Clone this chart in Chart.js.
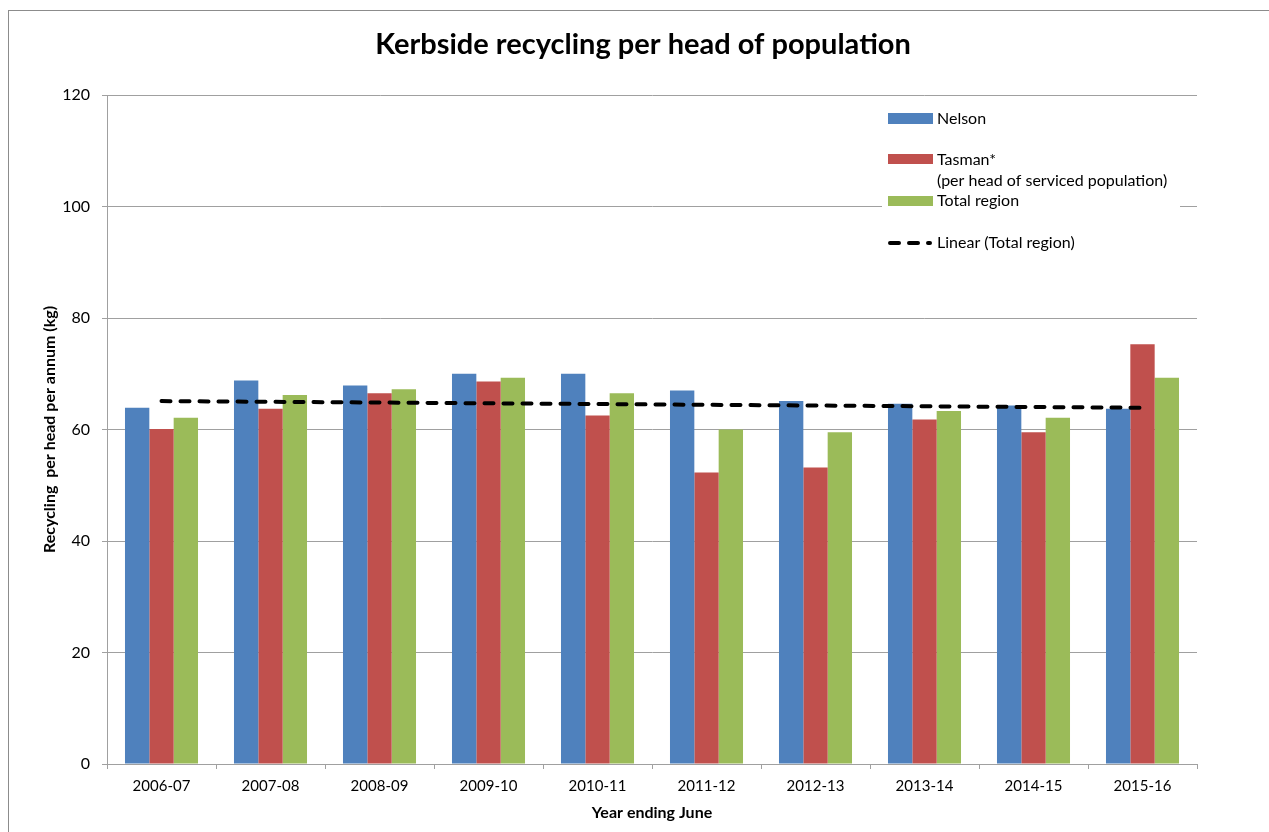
<!DOCTYPE html>
<html>
<head>
<meta charset="utf-8">
<title>Kerbside recycling per head of population</title>
<script src="https://cdn.jsdelivr.net/npm/chart.js@4.4.0/dist/chart.umd.min.js"></script>
<style>
    html, body { margin: 0; padding: 0; background: #fff; }
    #wrap { width: 1269px; height: 832px; position: relative; }
</style>
</head>
<body>
<div id="wrap"><canvas id="myChart" width="1269" height="832"></canvas></div>
<script>
// values (kg per head per annum)
const years = ['2006-07', '2007-08', '2008-09', '2009-10', '2010-11', '2011-12', '2012-13', '2013-14', '2014-15', '2015-16'];
const nelson = [63.9, 68.8, 67.9, 70.0, 70.0, 67.0, 65.1, 64.6, 64.3, 63.7];
const tasman = [60.1, 63.7, 66.5, 68.6, 62.5, 52.3, 53.2, 61.8, 59.5, 75.3];
const totalRegion = [62.1, 66.2, 67.2, 69.3, 66.5, 60.0, 59.5, 63.3, 62.1, 69.3];
// trend line, only the two ends are read, the rest is spanned
const trendTotal = [65.1, null, null, null, null, null, null, null, null, 63.9];
const yTicks = [0, 20, 40, 60, 80, 100, 120];

const gridGray = '#a0a0a0';
const fontFamily = 'Lato, "Open Sans", sans-serif';
Chart.defaults.font.family = fontFamily;
Chart.defaults.color = '#000';

// frame, title and the legend box inside the plot
const decorations = {
    id: 'decorations',
    beforeDraw: function (chart) {
        const ctx = chart.ctx;
        ctx.save();
        ctx.fillStyle = '#fff';
        ctx.fillRect(0, 0, chart.width, chart.height);
        ctx.strokeStyle = '#8c8c8c';
        ctx.lineWidth = 1;
        ctx.strokeRect(8.5, 10.5, chart.width + 20, chart.height + 20);
        ctx.restore();
    },
    afterDraw: function (chart) {
        const ctx = chart.ctx;
        ctx.save();
        ctx.fillStyle = '#000';
        ctx.textBaseline = 'middle';
        ctx.textAlign = 'center';
        ctx.font = 'bold 29px ' + fontFamily;
        ctx.fillText('Kerbside recycling per head of population', 643, 45);

        // legend
        ctx.fillStyle = '#fff';
        ctx.fillRect(882, 100, 298, 158);
        ctx.textAlign = 'left';
        ctx.font = '16px ' + fontFamily;
        ctx.fillStyle = '#4F81BD';
        ctx.fillRect(888, 113, 45, 11);
        ctx.fillStyle = '#C0504D';
        ctx.fillRect(888, 154, 45, 10);
        ctx.fillStyle = '#9BBB59';
        ctx.fillRect(888, 196, 45, 10);
        ctx.fillStyle = '#000';
        ctx.fillText('Nelson', 937, 119);
        ctx.fillText('Tasman*', 937, 160);
        ctx.fillText('(per head of serviced population)', 937, 181);
        ctx.fillText('Total region', 937, 201);
        ctx.fillText('Linear (Total region)', 937, 243);
        ctx.strokeStyle = '#000';
        ctx.lineWidth = 4;
        ctx.lineCap = 'round';
        ctx.setLineDash([9, 10]);
        ctx.beginPath();
        ctx.moveTo(890, 243);
        ctx.lineTo(930, 243);
        ctx.stroke();
        ctx.restore();
    }
};

const ctx = document.getElementById('myChart').getContext('2d');
const chartInstance = new Chart(ctx, {
    data: {
        labels: years,
        datasets: [
            {
                type: 'line',
                label: 'Linear (Total region)',
                data: trendTotal,
                spanGaps: true,
                borderColor: '#000',
                borderWidth: 4,
                borderDash: [9, 10],
                borderCapStyle: 'round',
                pointRadius: 0,
                fill: false,
                order: 0
            },
            { type: 'bar', label: 'Nelson', data: nelson, backgroundColor: '#4F81BD', order: 1 },
            { type: 'bar', label: 'Tasman*', data: tasman, backgroundColor: '#C0504D', order: 1 },
            { type: 'bar', label: 'Total region', data: totalRegion, backgroundColor: '#9BBB59', order: 1 }
        ]
    },
    options: {
        responsive: false,
        animation: false,
        categoryPercentage: 0.67,
        barPercentage: 1.0,
        layout: {
            padding: { left: 0, top: 95, right: 72, bottom: 0 }
        },
        plugins: {
            legend: { display: false },
            title: { display: false },
            tooltip: { enabled: false }
        },
        scales: {
            x: {
                offset: true,
                grid: {
                    offset: true,
                    drawOnChartArea: false,
                    drawTicks: true,
                    tickLength: 5,
                    color: gridGray
                },
                border: { display: true, color: gridGray },
                ticks: { font: { size: 15 }, padding: 8, color: '#000' },
                title: {
                    display: true,
                    text: 'Year ending June',
                    font: { size: 16, weight: 'bold' },
                    padding: { top: 0, bottom: 10 }
                },
                afterFit: function (scale) { scale.height = 68; }
            },
            y: {
                min: 0,
                max: 120,
                afterBuildTicks: function (scale) {
                    scale.ticks = yTicks.map(v => ({ value: v }));
                },
                grid: {
                    color: gridGray,
                    tickLength: 5
                },
                border: { display: true, color: gridGray },
                ticks: { font: { size: 16 }, padding: 12, color: '#000' },
                title: {
                    display: true,
                    text: 'Recycling  per head per annum (kg)',
                    font: { size: 16, weight: 'bold' },
                    padding: { top: 40, bottom: 0 }
                },
                afterFit: function (scale) { scale.width = 107; }
            }
        }
    },
    plugins: [decorations]
});
</script>
</body>
</html>
